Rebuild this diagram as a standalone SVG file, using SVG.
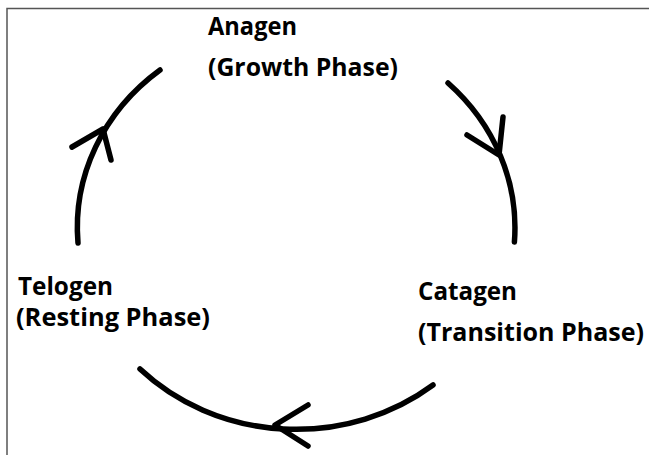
<svg xmlns="http://www.w3.org/2000/svg" width="649" height="455" viewBox="0 0 649 455">
  <style>
    .lbl { font-family: "Open Sans", "DejaVu Sans", sans-serif; font-weight: 700; font-size: 25px; fill: #000; }
    .arc { fill: none; stroke: #000; stroke-width: 5.5; stroke-linecap: round; stroke-linejoin: round; }
    .frame { stroke: #555; stroke-width: 1.5; fill: none; }
  </style>
  <rect x="0" y="0" width="649" height="455" fill="#fff"/>
  <path class="frame" d="M7 455 V8.5 H649"/>

  <g id="connectors">
    <g id="anagen-to-catagen">
      <path class="arc" d="M448 83 A218.5 201 0 0 1 514.4 242"/>
      <path class="arc" d="M503 117 L499 155 L467 135"/>
    </g>
    <g id="catagen-to-telogen">
      <path class="arc" d="M433 385 A218.5 201 0 0 1 140 369"/>
      <path class="arc" d="M308 405 L275 425 L308 446"/>
    </g>
    <g id="telogen-to-anagen">
      <path class="arc" d="M78 243 A218.5 201 0 0 1 160 70"/>
      <path class="arc" d="M72 147 L103 129 L111 160"/>
    </g>
  </g>

  <g id="anagen">
    <text class="lbl" x="208" y="35" textLength="89" lengthAdjust="spacingAndGlyphs">Anagen</text>
    <text class="lbl" x="208" y="76" textLength="190" lengthAdjust="spacingAndGlyphs">(Growth Phase)</text>
  </g>
  <g id="catagen">
    <text class="lbl" x="418" y="300" textLength="99" lengthAdjust="spacingAndGlyphs">Catagen</text>
    <text class="lbl" x="418" y="341" textLength="226" lengthAdjust="spacingAndGlyphs">(Transition Phase)</text>
  </g>
  <g id="telogen">
    <text class="lbl" x="18" y="295" textLength="95" lengthAdjust="spacingAndGlyphs">Telogen</text>
    <text class="lbl" x="16" y="326" textLength="194" lengthAdjust="spacingAndGlyphs">(Resting Phase)</text>
  </g>
</svg>
